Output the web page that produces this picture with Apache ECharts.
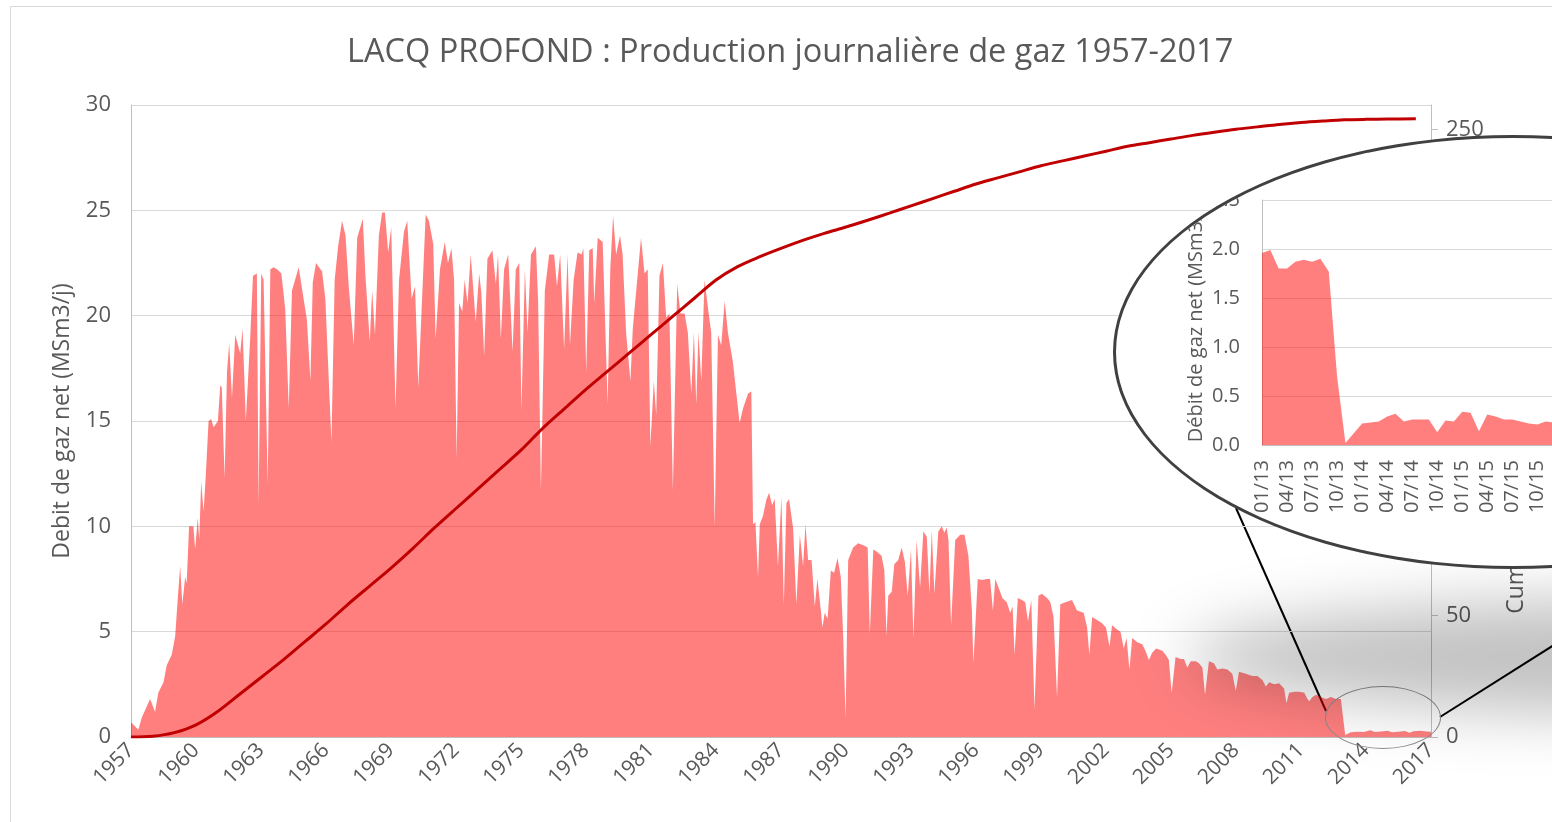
<!DOCTYPE html>
<html>
<head>
<meta charset="utf-8">
<title>LACQ PROFOND</title>
<script src="https://cdn.jsdelivr.net/npm/echarts@6/dist/echarts.min.js"></script>
<style>
html, body { margin: 0; padding: 0; overflow: hidden; background: #fff; }
#main { position: absolute; left: 0; top: 0; width: 1552px; height: 822px; }
#spot { position: absolute; left: 1325px; top: 686px; width: 116px; height: 63px; box-sizing: border-box; border: 1px solid #8c8c8c; border-radius: 50%; }
#shadow { position: absolute; left: 1185px; top: 598px; width: 1040px; height: 118px; border-radius: 50%;
  background: rgba(0, 0, 0, 0.24); filter: blur(30px); }
#lens { position: absolute; left: 1113px; top: 135px; width: 800px; height: 434px; box-sizing: border-box;
  border: 3px solid #404040; border-radius: 50%; overflow: hidden; background: #fff; }
#inset { position: absolute; left: -3px; top: -3px; width: 800px; height: 434px; }
</style>
</head>
<body>
<div id="main"></div>
<div id="spot"></div>
<div id="shadow"></div>
<div id="lens"><div id="inset"></div></div>
<script>
// débit journalier (MSm3/j), [année, valeur]
const debit = [
  [1957.00, 0.7], [1957.34, 0.35], [1957.49, 0.9], [1957.88, 1.8], [1958.11, 1.2], [1958.26, 2.1],
  [1958.50, 2.6], [1958.65, 3.4], [1958.88, 3.9], [1959.04, 4.8], [1959.16, 6.6], [1959.27, 8.1],
  [1959.37, 6.3], [1959.50, 7.6], [1959.57, 7.3], [1959.68, 10.0], [1959.88, 10.0], [1959.96, 8.9],
  [1960.08, 10.4], [1960.15, 9.4], [1960.24, 12.1], [1960.35, 10.7], [1960.45, 12.4], [1960.58, 15.0],
  [1960.70, 15.1], [1960.81, 14.7], [1961.01, 15.0], [1961.12, 16.7], [1961.19, 16.6], [1961.32, 12.3],
  [1961.43, 17.3], [1961.53, 18.7], [1961.66, 16.1], [1961.81, 19.1], [1962.04, 18.2], [1962.15, 19.4],
  [1962.30, 15.0], [1962.50, 18.9], [1962.63, 21.9], [1962.81, 22.0], [1962.89, 11.0], [1963.01, 22.0],
  [1963.12, 21.7], [1963.31, 12.0], [1963.43, 22.2], [1963.58, 22.3], [1963.74, 22.2], [1963.94, 22.0],
  [1964.12, 20.3], [1964.28, 15.6], [1964.43, 21.2], [1964.74, 22.3], [1964.89, 21.3], [1965.12, 19.8],
  [1965.28, 16.9], [1965.39, 21.6], [1965.54, 22.5], [1965.82, 22.1], [1965.97, 20.8], [1966.25, 14.0],
  [1966.40, 21.7], [1966.56, 23.3], [1966.74, 24.5], [1966.90, 23.8], [1967.05, 21.4], [1967.28, 18.6],
  [1967.44, 23.7], [1967.70, 24.6], [1967.82, 21.9], [1968.02, 18.8], [1968.13, 21.2], [1968.26, 19.1],
  [1968.44, 23.8], [1968.59, 24.9], [1968.72, 24.9], [1968.87, 23.0], [1969.01, 24.2], [1969.21, 15.6],
  [1969.37, 21.7], [1969.60, 24.0], [1969.75, 24.5], [1969.95, 20.8], [1970.11, 21.4], [1970.26, 16.6],
  [1970.60, 24.8], [1970.75, 24.5], [1970.95, 23.4], [1971.06, 18.9], [1971.26, 22.2], [1971.48, 23.5],
  [1971.63, 22.5], [1971.79, 23.2], [1971.91, 21.7], [1972.03, 13.2], [1972.14, 20.6], [1972.29, 20.2],
  [1972.40, 21.7], [1972.53, 20.6], [1972.68, 22.9], [1972.91, 19.7], [1973.07, 22.0], [1973.17, 21.1],
  [1973.30, 18.1], [1973.45, 22.7], [1973.68, 23.1], [1973.84, 21.5], [1973.94, 22.9], [1974.07, 18.9],
  [1974.22, 22.2], [1974.41, 22.9], [1974.61, 18.3], [1974.76, 22.2], [1974.92, 22.5], [1975.02, 15.5],
  [1975.18, 22.2], [1975.30, 19.2], [1975.46, 22.9], [1975.69, 23.3], [1975.79, 20.7], [1975.92, 11.7],
  [1976.10, 21.2], [1976.30, 22.9], [1976.53, 22.9], [1976.66, 21.4], [1976.81, 22.9], [1976.99, 18.4],
  [1977.15, 22.9], [1977.26, 18.6], [1977.43, 21.7], [1977.61, 23.0], [1977.80, 22.9], [1977.88, 23.2],
  [1978.01, 17.3], [1978.15, 23.1], [1978.31, 23.2], [1978.38, 20.6], [1978.54, 23.7], [1978.77, 23.5],
  [1979.00, 15.8], [1979.12, 22.2], [1979.25, 24.75], [1979.39, 22.9], [1979.57, 23.8], [1979.69, 22.9],
  [1979.85, 19.2], [1980.05, 16.9], [1980.16, 19.4], [1980.39, 22.0], [1980.54, 23.7], [1980.70, 22.0],
  [1980.85, 22.2], [1980.97, 13.8], [1981.13, 16.9], [1981.24, 15.3], [1981.39, 21.9], [1981.55, 22.5],
  [1981.70, 19.9], [1981.85, 20.1], [1982.01, 11.7], [1982.21, 21.5], [1982.36, 20.1], [1982.55, 20.1],
  [1982.70, 19.2], [1982.86, 16.3], [1982.98, 19.2], [1983.09, 15.8], [1983.19, 19.2], [1983.32, 16.9],
  [1983.47, 21.7], [1983.66, 20.1], [1983.78, 19.2], [1983.94, 10.0], [1984.09, 19.1], [1984.24, 18.6],
  [1984.40, 20.7], [1984.55, 19.2], [1984.78, 17.8], [1984.94, 16.3], [1985.09, 14.9], [1985.25, 15.6],
  [1985.48, 16.3], [1985.63, 16.4], [1985.71, 10.1], [1985.82, 10.2], [1985.94, 7.6], [1986.02, 10.1],
  [1986.17, 10.5], [1986.32, 11.25], [1986.45, 11.6], [1986.59, 11.0], [1986.71, 11.3], [1986.86, 8.1],
  [1987.02, 11.4], [1987.13, 6.3], [1987.25, 11.1], [1987.37, 11.3], [1987.56, 9.9], [1987.71, 6.3],
  [1987.87, 9.6], [1988.02, 8.1], [1988.13, 10.1], [1988.25, 8.4], [1988.41, 8.4], [1988.56, 6.2],
  [1988.68, 7.5], [1988.84, 6.0], [1988.91, 5.2], [1989.02, 5.9], [1989.15, 5.6], [1989.30, 7.9],
  [1989.45, 7.8], [1989.61, 8.5], [1989.76, 7.6], [1989.87, 4.8], [1989.98, 0.9], [1990.10, 8.4],
  [1990.33, 9.0], [1990.56, 9.2], [1990.80, 9.1], [1991.00, 9.0], [1991.10, 4.9], [1991.26, 8.9],
  [1991.41, 8.8], [1991.64, 8.6], [1991.77, 7.9], [1991.87, 4.8], [1991.95, 6.7], [1992.11, 6.9],
  [1992.23, 8.2], [1992.41, 8.4], [1992.57, 9.0], [1992.72, 8.3], [1992.85, 6.7], [1993.00, 8.9],
  [1993.11, 4.7], [1993.26, 9.35], [1993.42, 7.1], [1993.57, 9.75], [1993.73, 9.5], [1993.85, 6.8],
  [1993.96, 9.8], [1994.08, 6.8], [1994.26, 9.75], [1994.42, 10.0], [1994.54, 9.7], [1994.65, 9.95],
  [1994.73, 9.35], [1994.85, 5.3], [1995.04, 9.35], [1995.27, 9.6], [1995.47, 9.6], [1995.65, 8.6],
  [1995.81, 6.0], [1995.88, 3.5], [1996.08, 7.5], [1996.27, 7.45], [1996.50, 7.5], [1996.65, 7.5],
  [1996.78, 6.0], [1996.89, 7.5], [1997.04, 7.1], [1997.22, 6.6], [1997.42, 6.4], [1997.58, 5.9],
  [1997.69, 6.2], [1997.78, 3.9], [1997.93, 6.6], [1998.12, 6.5], [1998.27, 6.4], [1998.40, 5.5],
  [1998.55, 6.5], [1998.70, 1.3], [1998.88, 6.7], [1999.04, 6.8], [1999.28, 6.6], [1999.43, 6.4],
  [1999.58, 5.7], [1999.74, 1.9], [1999.89, 6.3], [2000.12, 6.4], [2000.43, 6.5], [2000.66, 6.0],
  [2000.97, 5.9], [2001.13, 5.2], [2001.23, 3.9], [2001.36, 5.7], [2001.59, 5.55], [2001.82, 5.4],
  [2002.00, 5.2], [2002.16, 4.3], [2002.28, 5.3], [2002.51, 5.1], [2002.67, 5.0], [2002.82, 4.2],
  [2002.95, 4.7], [2003.08, 3.2], [2003.21, 4.7], [2003.44, 4.5], [2003.67, 4.4], [2003.82, 4.1],
  [2003.98, 3.65], [2004.13, 4.0], [2004.32, 4.2], [2004.60, 4.1], [2004.75, 3.9], [2004.90, 3.65],
  [2005.03, 2.1], [2005.21, 3.8], [2005.44, 3.7], [2005.60, 3.7], [2005.75, 3.3], [2005.91, 3.6],
  [2006.14, 3.6], [2006.29, 3.5], [2006.45, 3.3], [2006.57, 2.0], [2006.75, 3.6], [2006.98, 3.5],
  [2007.14, 3.2], [2007.37, 3.25], [2007.60, 3.2], [2007.83, 3.0], [2007.99, 2.2], [2008.14, 3.1],
  [2008.45, 3.0], [2008.76, 2.9], [2008.99, 2.9], [2009.22, 2.7], [2009.38, 2.4], [2009.53, 2.6],
  [2009.76, 2.5], [2009.99, 2.55], [2010.22, 2.3], [2010.33, 1.6], [2010.45, 2.1], [2010.69, 2.15],
  [2010.92, 2.15], [2011.15, 2.1], [2011.30, 1.8], [2011.38, 1.7], [2011.53, 1.9], [2011.69, 2.0],
  [2011.92, 1.9], [2012.15, 1.8], [2012.38, 1.9], [2012.61, 1.8], [2012.84, 1.8], [2012.92, 1.75],
  [2013.04, 0.1], [2013.10, 0.15], [2013.30, 0.22], [2013.60, 0.25], [2013.90, 0.24], [2014.20, 0.32],
  [2014.40, 0.24], [2014.70, 0.26], [2015.00, 0.30], [2015.20, 0.22], [2015.50, 0.25], [2015.80, 0.28],
  [2016.00, 0.20], [2016.20, 0.27], [2016.50, 0.30], [2016.80, 0.26], [2017.00, 0.25]
];

// cumul de production (axe de droite)
const cumulAnnees = [1957, 1958, 1959, 1960, 1961, 1962, 1963, 1964, 1965, 1966, 1967, 1968, 1969, 1970,
  1971, 1972, 1973, 1974, 1975, 1976, 1977, 1978, 1979, 1980, 1981, 1982, 1983, 1984, 1985, 1986, 1987,
  1988, 1989, 1990, 1991, 1992, 1993, 1994, 1995, 1996, 1997, 1998, 1999, 2000, 2001, 2002, 2003, 2004,
  2005, 2006, 2007, 2008, 2009, 2010, 2011, 2012, 2013, 2014, 2015, 2016.3];
const cumulValeurs = [0, 0.3, 1.8, 5, 10.5, 17.5, 24.5, 31.5, 39, 46.5, 54.5, 62, 69.5, 77.5,
  86, 94, 102, 110, 118, 127, 135, 143, 150.5, 158, 165.5, 173, 180.5, 188, 193.5, 197.5, 201,
  204.3, 207.2, 209.8, 212.6, 215.5, 218.5, 221.5, 224.5, 227.5, 230, 232.5, 235, 237, 239, 241, 243, 244.5,
  246, 247.5, 248.8, 250, 251, 252, 252.8, 253.4, 253.9, 254.1, 254.2, 254.3];

// zoom 2013-2015
const insetMois = ['01/13', '02/13', '03/13', '04/13', '05/13', '06/13', '07/13', '08/13', '09/13', '10/13', '11/13', '12/13',
  '01/14', '02/14', '03/14', '04/14', '05/14', '06/14', '07/14', '08/14', '09/14', '10/14', '11/14', '12/14',
  '01/15', '02/15', '03/15', '04/15', '05/15', '06/15', '07/15', '08/15', '09/15', '10/15', '11/15', '12/15'];
const insetDebit = [1.96, 1.99, 1.80, 1.80, 1.87, 1.89, 1.87, 1.90, 1.77, 0.70, 0.02, 0.12,
  0.22, 0.23, 0.24, 0.29, 0.32, 0.24, 0.26, 0.26, 0.26, 0.13, 0.25, 0.24,
  0.34, 0.33, 0.14, 0.31, 0.29, 0.26, 0.26, 0.24, 0.22, 0.21, 0.24, 0.23];

const grey = '#595959';
const font = 'Open Sans';

const mainChart = echarts.init(document.getElementById('main'));
mainChart.setOption({
  animation: false,
  textStyle: { fontFamily: font },
  title: {
    text: 'LACQ PROFOND : Production journalière de gaz 1957-2017',
    left: 342, top: 31,
    textStyle: { fontSize: 32.5, fontWeight: 'normal', color: grey, fontFamily: font }
  },
  grid: { left: 131, top: 105, width: 1300, height: 632, outerBoundsMode: 'none' },
  xAxis: {
    type: 'value', min: 1957, max: 2017, interval: 3,
    axisLine: { lineStyle: { color: '#bfbfbf' } },
    axisTick: { show: false },
    splitLine: { show: false },
    axisLabel: { rotate: 45, color: grey, fontSize: 21, margin: 10, formatter: v => String(v) }
  },
  yAxis: [
    {
      type: 'value', min: 0, max: 30, interval: 5,
      name: 'Debit de gaz net (MSm3/j)', nameLocation: 'middle', nameGap: 57,
      nameTextStyle: { fontSize: 23, color: grey },
      axisLine: { show: true, lineStyle: { color: '#bfbfbf' } },
      axisTick: { show: false },
      axisLabel: { color: grey, fontSize: 22, margin: 20 },
      splitLine: { lineStyle: { color: '#d9d9d9' } }
    },
    {
      type: 'value', min: 0, max: 260, interval: 50, position: 'right',
      name: 'Cumul de production de gaz (GSm3)', nameLocation: 'middle', nameRotate: 90, nameGap: 74,
      nameTextStyle: { fontSize: 23, color: grey },
      axisLine: { show: true, lineStyle: { color: '#bfbfbf' } },
      axisTick: { show: true, length: 7, lineStyle: { color: '#bfbfbf' } },
      axisLabel: { color: grey, fontSize: 22, margin: 15, showMaxLabel: false },
      splitLine: { show: false }
    }
  ],
  series: [
    {
      type: 'line', data: debit, symbol: 'none',
      lineStyle: { width: 0, opacity: 0 },
      areaStyle: { color: 'rgba(255, 0, 0, 0.5)', opacity: 1 },
      z: 2
    },
    {
      type: 'line', yAxisIndex: 1, symbol: 'none', smooth: 0.3,
      data: cumulAnnees.map((a, i) => [a, cumulValeurs[i]]),
      lineStyle: { color: '#c00000', width: 3 },
      z: 3
    }
  ],
  graphic: [
    { type: 'rect', silent: true, shape: { x: 10.5, y: 6.5, width: 1700, height: 900 }, style: { fill: 'none', stroke: '#d9d9d9', lineWidth: 1 } },
    { type: 'line', silent: true, shape: { x1: 1326, y1: 711, x2: 1236, y2: 508 }, style: { stroke: '#000', lineWidth: 2 } },
    { type: 'line', silent: true, shape: { x1: 1440, y1: 717, x2: 1600, y2: 616 }, style: { stroke: '#000', lineWidth: 2 } }
  ]
});

const insetChart = echarts.init(document.getElementById('inset'));
insetChart.setOption({
  animation: false,
  textStyle: { fontFamily: font },
  grid: { left: 149, top: 65, width: 292, height: 245, outerBoundsMode: 'none' },
  xAxis: {
    type: 'category', data: insetMois, boundaryGap: false,
    axisLine: { lineStyle: { color: '#bfbfbf' } },
    axisTick: { show: false },
    axisLabel: { interval: 2, rotate: 90, color: grey, fontSize: 20, margin: 15 }
  },
  yAxis: {
    type: 'value', min: 0, max: 2.5, interval: 0.5,
    name: 'Débit de gaz net (MSm3/j)', nameLocation: 'middle', nameGap: 56,
    nameTextStyle: { fontSize: 20, color: grey },
    axisLine: { show: true, lineStyle: { color: '#bfbfbf' } },
    axisTick: { show: false },
    axisLabel: { color: grey, fontSize: 20, margin: 22, formatter: v => v.toFixed(1) },
    splitLine: { lineStyle: { color: '#d9d9d9' } }
  },
  series: [{
    type: 'line', data: insetDebit, symbol: 'none',
    lineStyle: { width: 0, opacity: 0 },
    areaStyle: { color: 'rgba(255, 0, 0, 0.5)', opacity: 1 }
  }]
});
</script>
</body>
</html>
